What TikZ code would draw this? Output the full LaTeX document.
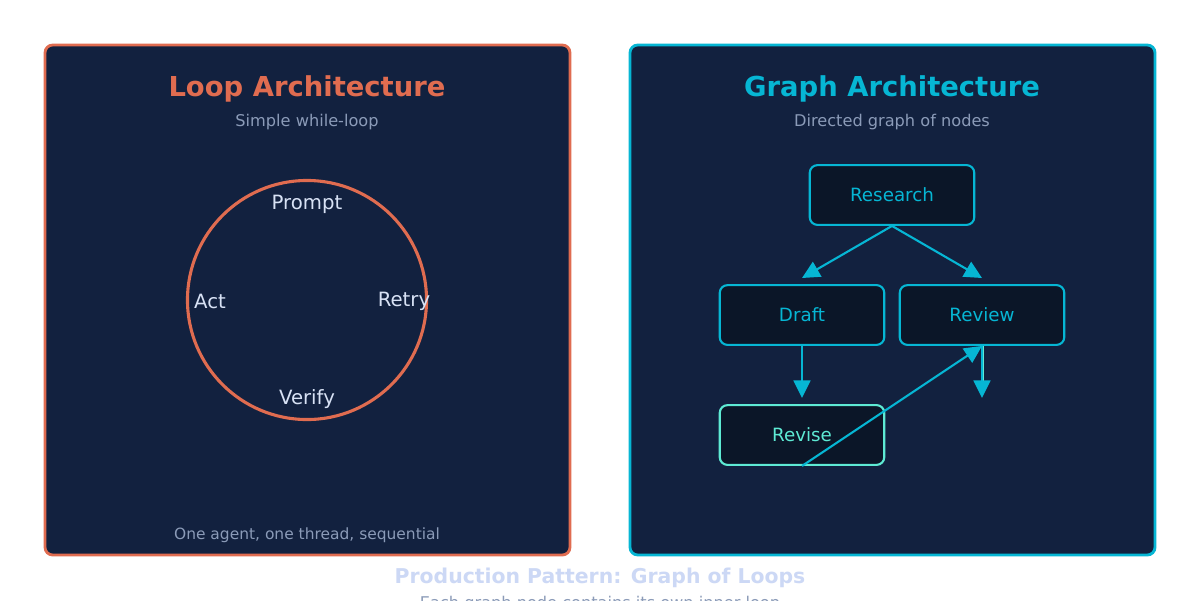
\documentclass[tikz,border=0pt]{standalone}
\usepackage{fontspec}
\setmainfont{DejaVu Sans}
\usetikzlibrary{arrows.meta}
\definecolor{panel}{HTML}{12213F}
\definecolor{boxfill}{HTML}{0B1628}
\definecolor{cyanc}{HTML}{06B6D4}
\definecolor{orangec}{HTML}{E06C50}
\definecolor{greenc}{HTML}{5EEAD4}
\definecolor{subc}{HTML}{8B9BB8}
\definecolor{labc}{HTML}{D8E2F5}
\definecolor{foottitle}{HTML}{CCD8F5}
\tikzset{
    gnode/.style={draw=cyanc, fill=boxfill, line width=1.5pt, rounded corners=5.5pt,
        minimum width=117pt, minimum height=42.5pt, text=cyanc, font=\fontsize{13}{15}\selectfont},
    garrow/.style={draw=cyanc, line width=1.5pt, -{Triangle[length=12.5pt,width=12pt]}},
    loopl/.style={text=labc, font=\fontsize{14}{16}\selectfont},
    sub/.style={text=subc, font=\fontsize{11.5}{13}\selectfont}
}
\begin{document}
\begin{tikzpicture}[x=0.025cm, y=-0.025cm]
        \useasboundingbox[fill=white] (0,0) rectangle (1200,600);
        % panels
        \draw[fill=panel, draw=orangec, line width=2pt, rounded corners=5.5pt] (45,45) rectangle (570,555);
        \draw[fill=panel, draw=cyanc, line width=2pt, rounded corners=5.5pt] (630,45) rectangle (1155,555);
        % loop side
        \node[text=orangec, font=\bfseries\fontsize{19.5}{22}\selectfont] (looptitle) at (307,89) {Loop Architecture};
        \node[sub] (loopsub) at (307,122) {Simple while-loop};
        \node[draw=orangec, line width=2.2pt, circle, minimum size=170pt] (ring) at (307,300) {};
        \node[loopl] (prompt) at (307,204) {Prompt};
        \node[loopl] (act)    at (210,301) {Act};
        \node[loopl] (retry)  at (404,301) {Retry};
        \node[loopl] (verify) at (307,399) {Verify};
        \node[sub, font=\fontsize{11}{12}\selectfont] (loopfoot) at (307,535) {One agent, one thread, sequential};
        % graph side
        \node[text=cyanc, font=\bfseries\fontsize{19.5}{22}\selectfont] (graphtitle) at (892,89) {Graph Architecture};
        \node[sub] (graphsub) at (892,122) {Directed graph of nodes};
        \node[gnode] (research) at (892,195) {Research};
        \node[gnode] (draft)    at (802,315) {Draft};
        \node[gnode] (review)   at (982,315) {Review};
        \node[gnode, draw=greenc, text=greenc] (revise) at (802,435) {Revise};
        \coordinate (draftin)  at (802,278);
        \coordinate (reviewin) at (982,278);
        \coordinate (reviseup) at (802,398);
        \coordinate (reviewout) at (982,398);
        \draw[garrow] (research.south) -- (draftin);
        \draw[garrow] (research.south) -- (reviewin);
        \draw[garrow] (draft.south) -- (reviseup);
        \draw[garrow] (revise.south) -- (review.south);
        \draw[greenc, line width=1.5pt] ([xshift=1pt]review.south) -- ++(0,40);
        \draw[garrow] (review.south) -- (reviewout);
        % footer
        \node[text=foottitle, font=\bfseries\fontsize{14.5}{16}\selectfont] (foot) at (600,578) {Production Pattern: Graph of Loops};
        \node[sub, anchor=north] (footsub) at (600,591) {Each graph node contains its own inner loop};
    \end{tikzpicture}
\end{document}
